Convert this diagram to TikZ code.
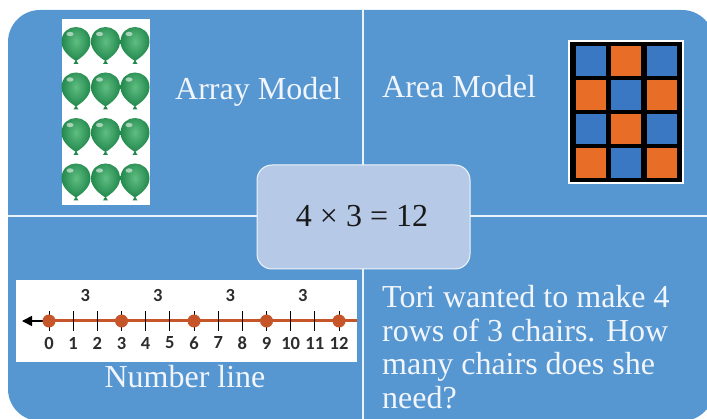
\documentclass[tikz,border=0pt]{standalone}
\usepackage{fontspec}
\setmainfont{Liberation Serif}
\newfontfamily\numfont{Carlito}
\usetikzlibrary{arrows.meta}
\definecolor{panel}{RGB}{86,151,210}
\definecolor{centerfill}{RGB}{182,201,230}
\definecolor{balloonlight}{RGB}{96,190,130}
\definecolor{balloondark}{RGB}{34,136,76}
\definecolor{lineorange}{RGB}{198,86,42}
\definecolor{cellblue}{RGB}{58,120,196}
\definecolor{cellorange}{RGB}{232,110,40}
\definecolor{labeltext}{RGB}{242,246,252}
\definecolor{digitgray}{RGB}{45,45,45}
\begin{document}
\begin{tikzpicture}[x=1pt,y=-1pt,
  caption/.style={text=labeltext,font=\fontsize{32}{33.5}\selectfont,inner sep=0pt},
  divider/.style={draw=white!88!panel,line width=1.5pt},
  digit/.style={text=digitgray,font=\numfont\bfseries\fontsize{18.5}{18.5}\selectfont,inner sep=0pt},
  cell/.style={minimum width=30pt,minimum height=30pt,inner sep=0pt,anchor=north west},
]
\useasboundingbox (0,0) rectangle (707,419);
\fill[white] (0,0) rectangle (707,419);
\fill[panel,rounded corners=32pt] (8,10) rectangle (714,421);

% quadrant dividers
\coordinate (vtop) at (363,10);
\coordinate (vbot) at (363,419);
\coordinate (hleft) at (8,216);
\coordinate (hright) at (707,216);
\draw[divider] (vtop) -- (vbot);
\draw[divider] (hleft) -- (hright);

% central equation box
\node[draw=white!80!centerfill,line width=1pt,fill=centerfill,rounded corners=15pt,
      minimum width=213pt,minimum height=104pt,inner sep=0pt] (ctr) at (363.5,217) {};
\node[text=black!90,font=\fontsize{32}{34}\selectfont,anchor=base,inner sep=0pt] (eq) at (362,227) {4 × 3 = 12};

% array of balloons
\node[fill=white,minimum width=88pt,minimum height=186pt,inner sep=0pt] (arraybox) at (106,112) {};
\foreach \c in {0,1,2} {
  \foreach \r in {0,...,3} {
    \begin{scope}[shift={(76+29.5*\c,42+45.5*\r)}]
      \shade[inner color=balloonlight,outer color=balloondark]
        (-14.5,0) .. controls (-14.5,-20) and (14.5,-20) .. (14.5,0)
        .. controls (14.5,9) and (5,16) .. (0,19) .. controls (-5,16) and (-14.5,9) .. (-14.5,0) -- cycle;
      \fill[white,opacity=0.55] (-6,-8) ellipse (3.5pt and 2.2pt);
      \fill[balloondark] (0,18) -- (-2.5,22) -- (2.5,22) -- cycle;
    \end{scope}
  }
}
\node[caption,anchor=base west] (arraylbl) at (175,100) {Array Model};

% area model grid
\node[fill=white,minimum width=116pt,minimum height=144pt,inner sep=0pt] (areaframe) at (626,112) {};
\node[fill=black,minimum width=112pt,minimum height=140pt,inner sep=0pt] (areagrid) at (626,112) {};
\foreach \i in {0,1,2} {
  \foreach \j in {0,...,3} {
    \pgfmathparse{mod(\i+\j,2)==0 ? "cellblue" : "cellorange"}
    \edef\cellcol{\pgfmathresult}
    \node[cell,fill=\cellcol] (cell-\i-\j) at (575.5+35.5*\i,46+34*\j) {};
  }
}
\node[caption,anchor=base west] (arealbl) at (382,98) {Area Model};

% number line
\node[fill=white,minimum width=341pt,minimum height=82pt,inner sep=0pt] (nlbox) at (186.5,321) {};
\foreach \k in {0,...,12} {
  \coordinate (p\k) at (49+24.17*\k,321);
}
\coordinate (nlend) at (357,321);
\coordinate (nlarrow) at (22,321);
\draw[lineorange,line width=3pt] (p0) -- (nlend);
\draw[black,line width=1.6pt,-{Triangle[length=10pt,width=10pt]}] (p0) -- (nlarrow);
\foreach \k in {0,...,12} {
  \draw[black,line width=1pt] ([yshift=-10pt]p\k) -- ([yshift=10pt]p\k);
  \node[digit] (d\k) at (49+24.17*\k,343) {\k};
}
\foreach \k in {0,3,...,12} {
  \fill[lineorange] (p\k) circle (6.5pt);
}
\foreach \m in {0,1,2,3} {
  \node[digit] (jump\m) at (85.25+72.5*\m,295) {3};
}
\node[caption,anchor=base] (nllbl) at (185,388) {Number line};

% word problem (base anchor sits on the last line)
\node[caption,anchor=base west,align=left] (story) at (382,408.5)
  {Tori wanted to make 4\\rows of 3 chairs. How\\many chairs does she\\need?};
\end{tikzpicture}
\end{document}
